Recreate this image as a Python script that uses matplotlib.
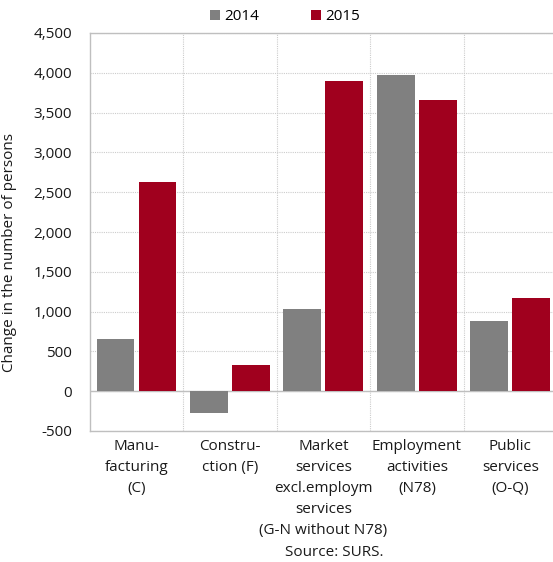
import matplotlib
matplotlib.use("Agg")
import matplotlib.pyplot as plt
from matplotlib.transforms import blended_transform_factory
import numpy as np

plt.rcParams['font.family'] = ['Open Sans', 'DejaVu Sans']

categories = ["Manu-\nfacturing\n(C)", "Constru-\nction (F)", "Market\nservices\nexcl.employm\nservices\n(G-N without N78)",
              "Employment\nactivities\n(N78)", "Public\nservices\n(O-Q)"]
years = ["2014", "2015"]
values_2014 = [652, -270, 1037, 3968, 882]
values_2015 = [2630, 329, 3897, 3658, 1171]
yticks = list(range(-500, 4501, 500))

W, H = 553, 562
fig = plt.figure(figsize=(W / 100, H / 100), dpi=100)
ax = fig.add_axes([90 / W, 1 - 431 / H, 467 / W, 398 / H])

gray = "#808080"
red = "#A0001E"
txt = "#1a1a1a"
fs = 11
x = np.arange(len(categories))
bw = 0.405
ax.bar(x - 0.025 - bw / 2, values_2014, bw, color=gray, label=years[0], zorder=3)
ax.bar(x + 0.02 + bw / 2, values_2015, bw, color=red, label=years[1], zorder=3)

ax.set_xlim(-0.5, len(categories) - 0.5)
ax.set_ylim(-500, 4500)
ax.set_yticks(yticks)
ax.set_yticklabels([f"{v:,}" for v in yticks], fontsize=fs, color=txt)
ax.tick_params(axis='y', length=0, pad=13)
ax.set_xticks(np.arange(len(categories) - 1) + 0.5)
ax.set_xticklabels([])
ax.tick_params(axis='x', length=0)

ax.grid(True, axis='both', color="#cccccc", linestyle=(0, (1, 1)), linewidth=0.8, zorder=0)
ax.axhline(0, color="#bfbfbf", linewidth=1.0, zorder=2)
for s in ax.spines.values():
    s.set_color("#bfbfbf")
    s.set_linewidth(1.0)

# category labels, one text per line, centred under each group
label_tr = blended_transform_factory(ax.transData, fig.transFigure)
row_step = 20.8
for i, lab in enumerate(categories):
    for k, line in enumerate(lab.split("\n")):
        ypix = 447 + row_step * k
        ax.text(i, 1 - ypix / H, line, transform=label_tr,
                ha='center', va='center', fontsize=fs, color=txt)

ax.set_ylabel("Change in the number of persons", fontsize=fs, color=txt)
ax.yaxis.set_label_coords(17 / W, 1 - 252 / H, transform=fig.transFigure)

fig.text(334 / W, 1 - 553 / H, "Source: SURS.", ha='center', va='center', fontsize=fs, color=txt)

fig.legend(loc='center', bbox_to_anchor=(285 / W, 1 - 17 / H), ncol=2, frameon=False,
           handlelength=0.65, handleheight=0.65, handletextpad=0.3, columnspacing=3.4, fontsize=fs)

fig.savefig("out.png", dpi=100)
